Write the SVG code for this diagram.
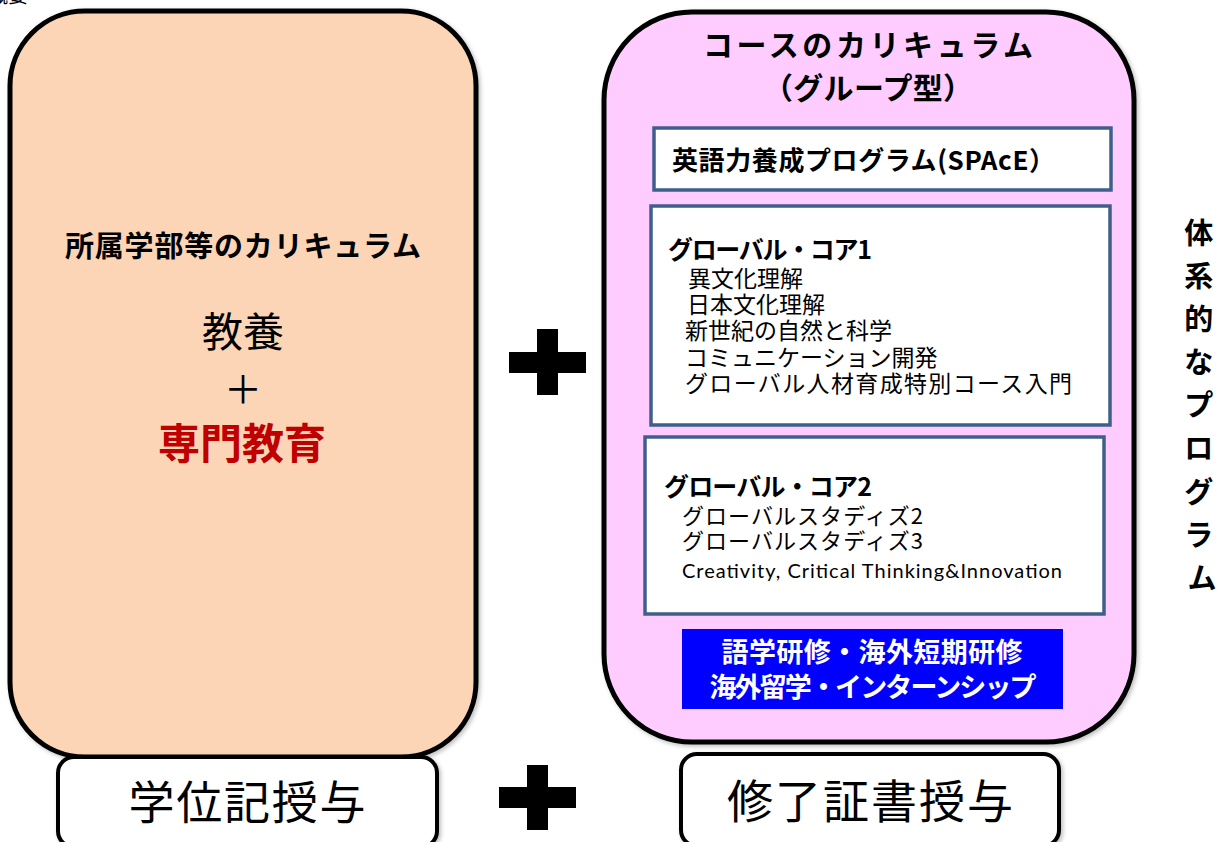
<svg xmlns="http://www.w3.org/2000/svg" width="1224" height="842" viewBox="0 0 1224 842">
<defs>
<style>
.jp{font-family:"Noto Sans CJK JP","Noto Sans",sans-serif;}
.b{font-weight:bold;}
.big{stroke:#000;stroke-width:5;}
.inner{fill:#fff;stroke:#3F5F8A;stroke-width:3.5;}
.item{font-size:23px;fill:#000;}
.ttl{font-size:25px;fill:#000;}
.plus{fill:#000;}
</style>
<filter id="sh" x="-5%" y="-5%" width="110%" height="110%">
<feDropShadow dx="2" dy="2" stdDeviation="2" flood-color="#000" flood-opacity="0.25"/>
</filter>
</defs>
<rect width="1224" height="842" fill="#fff"/>
<text class="jp" x="-12" y="3" font-size="20">概要</text>

<g id="faculty">
<rect class="big" x="10" y="11" width="466" height="746" rx="75" ry="75" fill="#FBD5B5" filter="url(#sh)"/>
<text class="jp b" x="243" y="257" font-size="29" text-anchor="middle" textLength="356">所属学部等のカリキュラム</text>
<text class="jp" x="243" y="347" font-size="41" text-anchor="middle">教養</text>
<text class="jp" x="243" y="403" font-size="38" text-anchor="middle">＋</text>
<text class="jp b" x="242" y="459" font-size="42" text-anchor="middle" fill="#C00000">専門教育</text>
</g>

<g id="course">
<rect class="big" x="604" y="12" width="530" height="730" rx="88" ry="88" fill="#FFCCFF" filter="url(#sh)"/>
<text class="jp b" x="868" y="56" font-size="30" text-anchor="middle" textLength="330">コースのカリキュラム</text>
<text class="jp b" x="868" y="99" font-size="30" text-anchor="middle" textLength="210">（グループ型）</text>
</g>

<g id="space">
<rect class="inner" x="654" y="128" width="457" height="62"/>
<text class="jp b" x="672" y="170" font-size="26" textLength="383">英語力養成プログラム(SPAcE）</text>
</g>

<g id="core1">
<rect class="inner" x="651" y="206" width="459" height="219"/>
<text class="jp b ttl" x="668" y="259" textLength="204">グローバル・コア1</text>
<text class="jp item" x="688" y="287">異文化理解</text>
<text class="jp item" x="687" y="313">日本文化理解</text>
<text class="jp item" x="685" y="339">新世紀の自然と科学</text>
<text class="jp item" x="685" y="366">コミュニケーション開発</text>
<text class="jp item" x="685" y="392" textLength="387">グローバル人材育成特別コース入門</text>
</g>

<g id="core2">
<rect class="inner" x="645" y="437" width="459" height="177"/>
<text class="jp b ttl" x="664" y="496" textLength="208">グローバル・コア2</text>
<text class="jp" x="682" y="524" font-size="22" textLength="241">グローバルスタディズ2</text>
<text class="jp" x="682" y="549" font-size="22" textLength="241">グローバルスタディズ3</text>
<text x="682" y="578" font-family="Lato,'Open Sans',sans-serif" font-size="20" textLength="380">Creativity, Critical Thinking&amp;Innovation</text>
</g>

<g id="abroad">
<rect x="682" y="629" width="381" height="80" fill="#0000FF"/>
<text class="jp b" x="872" y="662" font-size="27" text-anchor="middle" fill="#fff" textLength="301">語学研修・海外短期研修</text>
<text class="jp b" x="873" y="697" font-size="27" text-anchor="middle" fill="#fff" textLength="327">海外留学・インターンシップ</text>
</g>

<g id="systematic">
<text class="jp b" font-size="29" text-anchor="middle" fill="#000">
<tspan x="1202" y="244">体</tspan>
<tspan x="1202" y="287">系</tspan>
<tspan x="1202" y="330">的</tspan>
<tspan x="1202" y="373">な</tspan>
<tspan x="1202" y="416">プ</tspan>
<tspan x="1202" y="459">ロ</tspan>
<tspan x="1202" y="503">グ</tspan>
<tspan x="1202" y="546">ラ</tspan>
<tspan x="1202" y="589">ム</tspan>
</text>
</g>

<g id="degree">
<rect x="58" y="757" width="379" height="90" rx="16" ry="16" fill="#fff" stroke="#000" stroke-width="4" filter="url(#sh)"/>
<text class="jp" x="247" y="819" font-size="46" text-anchor="middle" textLength="237">学位記授与</text>
</g>

<g id="certificate">
<rect x="681" y="754" width="378" height="92" rx="16" ry="16" fill="#fff" stroke="#000" stroke-width="4" filter="url(#sh)"/>
<text class="jp" x="870" y="818" font-size="46" text-anchor="middle" textLength="286">修了証書授与</text>
</g>

<g id="connectors">
<path class="plus" d="M537 329H558V352H586V373H558V395H537V373H509V352H537Z"/>
<path class="plus" d="M527 765H548V787H576V808H548V830H527V808H499V787H527Z"/>
</g>
</svg>
